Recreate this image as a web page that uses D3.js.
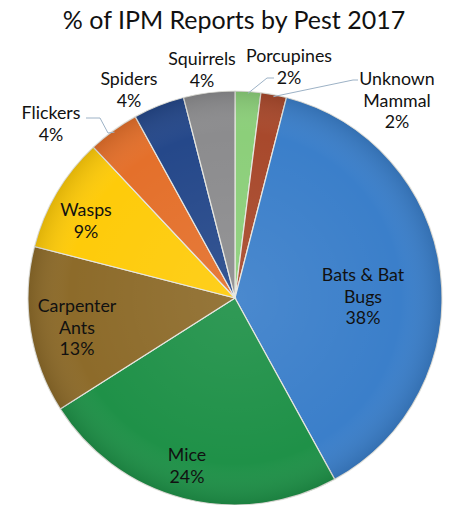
<!DOCTYPE html>
<html>
<head>
<meta charset="utf-8">
<script src="https://cdn.jsdelivr.net/npm/d3@7"></script>
<style>
  body { margin: 0; background: #fff; }
  svg text { font-family: Lato, "Open Sans", sans-serif; fill: #111; }
</style>
</head>
<body>
<svg id="pie-chart" width="454" height="505"></svg>
<script>
const width = 454;
const height = 505;

// Data (clockwise from 12 o'clock)
const pests = ["Porcupines", "Unknown Mammal", "Bats & Bat Bugs", "Mice", "Carpenter Ants",
  "Wasps", "Flickers", "Spiders", "Squirrels"];
const shares = [2, 2, 38, 24, 13, 9, 4, 4, 4];
const colors = ["#8ccf7a", "#a8492c", "#3b7fca", "#1f9148", "#8d6b2a",
  "#fecb0a", "#e4702b", "#25488a", "#8c8c8e"];

// Label text lines and where they sit (label centre x, first line y)
const labelLines = [["Porcupines", "2%"], ["Unknown", "Mammal", "2%"], ["Bats & Bat", "Bugs", "38%"],
  ["Mice", "24%"], ["Carpenter", "Ants", "13%"], ["Wasps", "9%"], ["Flickers", "4%"],
  ["Spiders", "4%"], ["Squirrels", "4%"]];
const labelAt = [[289, 62], [397, 85], [363, 281], [187, 461], [77, 312], [86, 216],
  [51, 119], [129, 85], [202, 65]];
// Leader lines: elbow points from the slice edge to the text
const leaders = { 0: [[267, 78], [274, 78]], 1: [[353, 80], [358, 80]], 6: [[108, 133], [100, 118], [86, 118]] };

const cx = 235;
const cy = 298;
const radius = 207;
const lineHeight = 21.5;

const svg = d3.select("#pie-chart");

// Title
svg.append("text")
  .attr("x", 234)
  .attr("y", 29)
  .attr("text-anchor", "middle")
  .attr("font-size", 25)
  .text("% of IPM Reports by Pest 2017");

const pie = d3.pie().sort(null).value((d) => d);
const arcs = pie(shares);
const arc = d3.arc().innerRadius(0).outerRadius(radius);

const defs = svg.append("defs");
const shade = defs.append("radialGradient").attr("id", "shade");
shade.append("stop").attr("offset", "0%").attr("stop-color", "#fff").attr("stop-opacity", 0.08);
shade.append("stop").attr("offset", "80%").attr("stop-color", "#fff").attr("stop-opacity", 0);
shade.append("stop").attr("offset", "100%").attr("stop-color", "#000").attr("stop-opacity", 0.12);

const g = svg.append("g").attr("transform", `translate(${cx},${cy})`);

g.selectAll("path.slice")
  .data(arcs)
  .enter()
  .append("path")
  .attr("class", "slice")
  .attr("d", arc)
  .attr("fill", (d, i) => colors[i])
  .attr("stroke", "#e6e6e0")
  .attr("stroke-width", 1.2);

g.append("circle")
  .attr("r", radius)
  .attr("fill", "url(#shade)")
  .attr("pointer-events", "none");

// Leader lines
Object.keys(leaders).forEach((k) => {
  const a = arcs[k];
  const mid = (a.startAngle + a.endAngle) / 2;
  const start = [cx + Math.sin(mid) * (radius - 2), cy - Math.cos(mid) * (radius - 2)];
  svg.append("path")
    .attr("d", d3.line()([start, ...leaders[k]]))
    .attr("fill", "none")
    .attr("stroke", "#9db2c6")
    .attr("stroke-width", 1);
});

// Labels
labelLines.forEach((lines, i) => {
  const t = svg.append("text")
    .attr("text-anchor", "middle")
    .attr("font-size", 17.8);
  lines.forEach((s, j) => {
    t.append("tspan")
      .attr("x", labelAt[i][0])
      .attr("y", labelAt[i][1] + j * lineHeight)
      .text(s);
  });
});
</script>
</body>
</html>
